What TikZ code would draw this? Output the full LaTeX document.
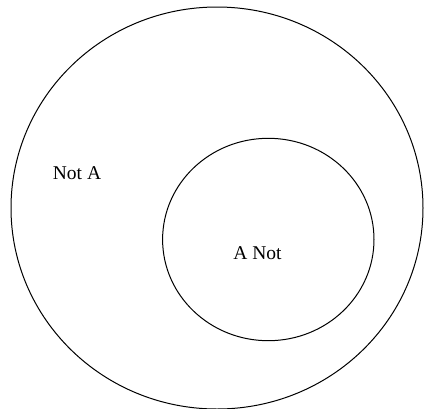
\documentclass[tikz,border=0pt]{standalone}
\usepackage{fontspec}
\setmainfont{Liberation Serif}
\begin{document}
\begin{tikzpicture}[x=1pt,y=-1pt,
  ring/.style={draw=black,line width=1pt},
  lbl/.style={font=\fontsize{19.5}{22}\selectfont,inner sep=0pt,anchor=base}]
\useasboundingbox (0,0) rectangle (426,408);
\draw[ring] (217,208) ellipse [x radius=206,y radius=201];
\draw[ring] (268.3,239.5) ellipse [x radius=105.7,y radius=101.2];
\node[lbl] (notA) at (77,179) {Not A};
\node[lbl] (ANot) at (257.5,259) {A Not};
\end{tikzpicture}
\end{document}
